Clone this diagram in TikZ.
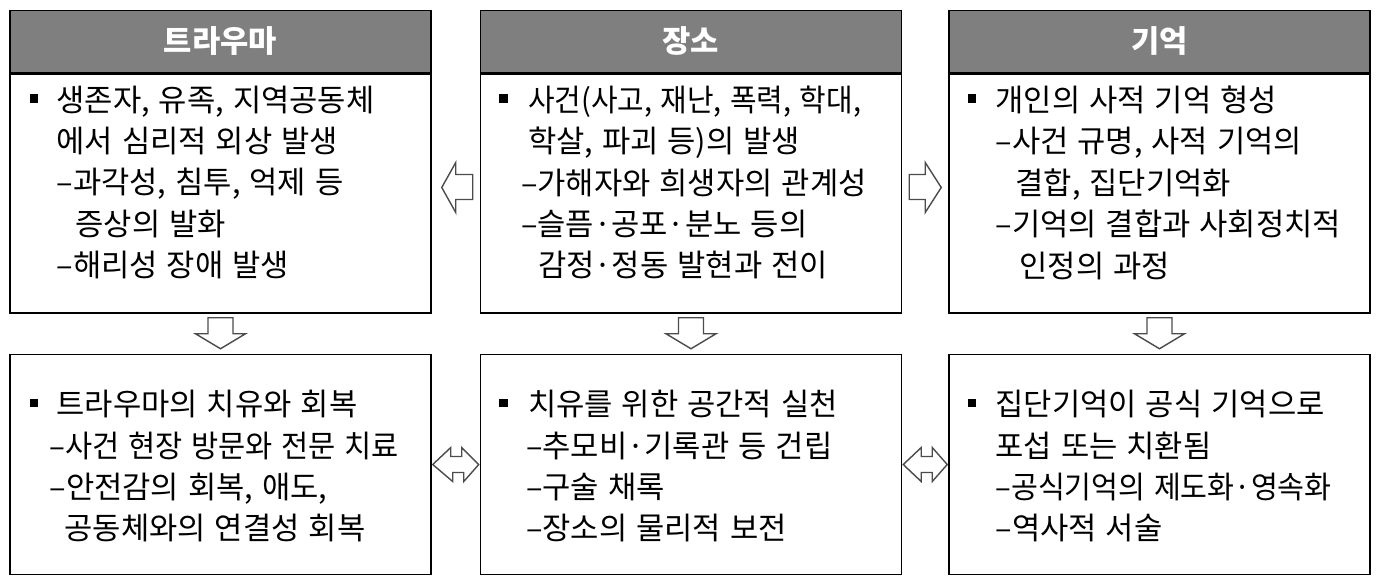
\documentclass[tikz,border=0pt]{standalone}
\usepackage{graphicx}
\usepackage{fontspec}
\newfontfamily\kr[WordSpace=1.3]{Noto Sans CJK KR}
\usetikzlibrary{positioning,calc}
\definecolor{headgray}{RGB}{127,127,127}
\newcommand{\boxbul}[1]{\makebox[#1][l]{\rule[0.17cm]{0.17cm}{0.17cm}}}
\newcommand{\tight}[2]{\scalebox{#1}[1]{#2}}

\begin{document}
\begin{tikzpicture}[x=0.02cm,y=-0.02cm,
    bodybox/.style={draw,line width=0.9pt,minimum width=8.42cm,minimum height=4.78cm,inner sep=0pt},
    lowbox/.style={bodybox,minimum height=4.4cm},
    headbox/.style={draw,line width=0.9pt,fill=headgray,minimum width=8.42cm,minimum height=1.24cm,
      inner sep=0pt,text=white,font=\kr\bfseries\fontsize{17.5}{20}\selectfont},
    itemtext/.style={anchor=north west,inner sep=0pt,align=left,font=\kr\fontsize{17.5}{23.6}\selectfont},
    blkarrow/.style={draw=black!70,fill=white,line width=0.8pt}]
      \useasboundingbox (0,0) rectangle (1379,587);
      % upper row
      \node[bodybox] (trauma) at (220.5,193.5) {};
      \node[bodybox,right=0.96cm of trauma] (place) {};
      \node[bodybox,right=0.92cm of place] (memory) {};
      \node[headbox,above=0pt of trauma] (traumahead) {트라우마};
      \node[headbox,above=0pt of place] (placehead) {장소};
      \node[headbox,above=0pt of memory] (memoryhead) {기억};
      % lower row
      \node[lowbox,below=0.8cm of trauma] (heal) {};
      \node[lowbox,below=0.8cm of place] (practice) {};
      \node[lowbox,below=0.8cm of memory] (record) {};
      % texts
      \node[itemtext] (traumatext) at ($(trauma.north west)+(20,12)$) {%
        \boxbul{0.54cm}생존자, 유족, 지역공동체\\
        \hspace*{0.54cm}에서 심리적 외상 발생\\
        \hspace*{0.54cm}–과각성, 침투, 억제 등\\
        \hspace*{0.92cm}증상의 발화\\
        \hspace*{0.54cm}–해리성 장애 발생};
      \node[itemtext] (placetext) at ($(place.north west)+(19,12)$) {%
        \boxbul{0.58cm}\tight{0.94}{사건(사고, 재난, 폭력, 학대,}\\
        \hspace*{0.58cm}학살, 파괴 등)의 발생\\
        \hspace*{0.44cm}–가해자와 희생자의 관계성\\
        \hspace*{0.44cm}–슬픔·공포·분노 등의\\
        \hspace*{0.78cm}감정·정동 발현과 전이};
      \node[itemtext] (memorytext) at ($(memory.north west)+(19,12)$) {%
        \boxbul{0.56cm}개인의 사적 기억 형성\\
        \hspace*{0.56cm}–사건 규명, 사적 기억의\\
        \hspace*{0.96cm}결합, 집단기억화\\
        \hspace*{0.56cm}–기억의 결합과 사회정치적\\
        \hspace*{1.04cm}인정의 과정};
      \node[itemtext] (healtext) at ($(heal.north west)+(20,36)$) {%
        \boxbul{0.54cm}트라우마의 치유와 회복\\
        \hspace*{0.4cm}\tight{0.96}{–사건 현장 방문와 전문 치료}\\
        \hspace*{0.4cm}–안전감의 회복, 애도,\\
        \hspace*{0.7cm}공동체와의 연결성 회복};
      \node[itemtext] (practicetext) at ($(practice.north west)+(19,36)$) {%
        \boxbul{0.58cm}치유를 위한 공간적 실천\\
        \hspace*{0.54cm}–추모비·기록관 등 건립\\
        \hspace*{0.54cm}–구술 채록\\
        \hspace*{0.54cm}–장소의 물리적 보전};
      \node[itemtext] (recordtext) at ($(record.north west)+(19,36)$) {%
        \boxbul{0.56cm}집단기억이 공식 기억으로\\
        \hspace*{0.56cm}포섭 또는 치환됨\\
        \hspace*{0.56cm}\tight{0.95}{–공식기억의 제도화·영속화}\\
        \hspace*{0.56cm}–역사적 서술};
      % block arrows between the columns
      \draw[blkarrow] ($(trauma.east)+(10,-6)$) -- ++(14,-25) -- ++(0,12) -- ($(place.west)+(-7,-19)$)
        -- ++(0,25) -- ++(-17,0) -- ++(0,13) -- cycle;
      \draw[blkarrow] ($(place.east)+(7,-19)$) -- ++(16,0) -- ++(0,-12) -- ($(memory.west)+(-7,-6)$)
        -- ++(-16,25) -- ++(0,-13) -- ++(-16,0) -- cycle;
      % block arrows down
      \foreach \a/\b in {trauma/heal,place/practice,memory/record}
        \draw[blkarrow] ($(\a.south)+(-12.5,4)$) -- ++(25,0) -- ++(0,16) -- ++(12.5,0)
          -- ($(\b.north)+(0,-5)$) -- ++(-25,-15) -- ++(12.5,0) -- cycle;
      % double arrows in the lower row
      \foreach \a/\b in {heal/practice,practice/record}
        \draw[blkarrow] ($(\a.east)+(1,0)$) -- ++(18,-17) -- ++(0,9) -- ++(11,0) -- ++(0,-9)
          -- ($(\b.west)+(-1,0)$) -- ++(-15,17) -- ++(0,-9) -- ++(-11,0) -- ++(0,9) -- cycle;
    \end{tikzpicture}
\end{document}
